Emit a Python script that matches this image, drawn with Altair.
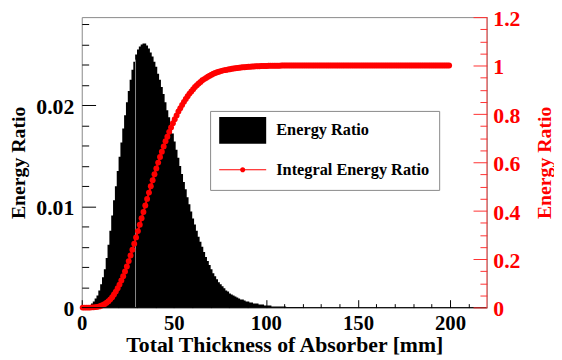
import altair as alt
import pandas as pd

# ---------------- data ----------------
# Energy ratio per 1 mm bin (bins 0-1, 1-2, ... mm)
hist_values = [
    0.0, 0.0, 0.00002, 0.0001, 0.0002, 0.0004, 0.0006, 0.0009, 0.0012, 0.0017,
    0.0023, 0.0030, 0.0038, 0.0049, 0.0062, 0.0076, 0.0091, 0.0106, 0.0120, 0.0135,
    0.0149, 0.0163, 0.0177, 0.0190, 0.0203, 0.0214, 0.0225, 0.0235, 0.0243, 0.0250,
    0.0255, 0.0258, 0.0260, 0.0261, 0.0261, 0.0259, 0.0256, 0.0252, 0.0248, 0.0243,
    0.0238, 0.0231, 0.0225, 0.0218, 0.0211, 0.0203, 0.0195, 0.0188, 0.0180, 0.0172,
    0.0164, 0.0156, 0.0148, 0.0140, 0.0132, 0.0124, 0.0117, 0.0109, 0.0102, 0.0095,
    0.0088, 0.0082, 0.0076, 0.0070, 0.0065, 0.0060, 0.0055, 0.0050, 0.0046, 0.0042,
    0.0038, 0.0034, 0.0031, 0.0028, 0.0025, 0.0023, 0.0021, 0.0019, 0.0017, 0.0016,
    0.0014, 0.0013, 0.0012, 0.0011, 0.0010, 0.0009, 0.0008, 0.0008, 0.0007, 0.0006,
    0.0006, 0.0005, 0.0005, 0.0004, 0.0004, 0.0004, 0.0003, 0.0003, 0.0003, 0.0002,
    0.0002, 0.0002, 0.0002, 0.0001, 0.0001, 0.0001, 0.0001, 0.0001, 0.0001, 0.0001,
    0.0001, 0.00005, 0.00005, 0.00005, 0.00005, 0.00005, 0.00005, 0.00005, 0.00005, 0.00005,
] + [0.0] * 80

# Integral energy ratio at each bin centre
integral_values = [
    0.000, 0.000, 0.000, 0.000, 0.000, 0.001, 0.001, 0.002, 0.003, 0.005,
    0.008, 0.011, 0.015, 0.020, 0.026, 0.034, 0.043, 0.054, 0.066, 0.080,
    0.095, 0.112, 0.130, 0.149, 0.170, 0.192, 0.215, 0.239, 0.264, 0.290,
    0.316, 0.342, 0.369, 0.395, 0.422, 0.449, 0.475, 0.501, 0.526, 0.551,
    0.575, 0.599, 0.622, 0.644, 0.666, 0.687, 0.706, 0.726, 0.744, 0.762,
    0.778, 0.794, 0.810, 0.824, 0.837, 0.850, 0.862, 0.873, 0.884, 0.893,
    0.902, 0.911, 0.919, 0.926, 0.932, 0.939, 0.944, 0.949, 0.954, 0.958,
    0.962, 0.966, 0.969, 0.972, 0.974, 0.977, 0.979, 0.981, 0.982, 0.984,
    0.985, 0.987, 0.988, 0.989, 0.990, 0.991, 0.992, 0.993, 0.993, 0.994,
    0.995, 0.995, 0.996, 0.996, 0.997, 0.997, 0.997, 0.998, 0.998, 0.998,
    0.998, 0.999, 0.999, 0.999, 0.999, 0.999, 0.999, 0.999, 1.000, 1.000,
    1.000, 1.000, 1.000, 1.000, 1.000, 1.000, 1.000, 1.000, 1.000, 1.000,
] + [1.0] * 80

series_names = ["Energy Ratio", "Integral Energy Ratio"]

x_ticks = [0, 10, 20, 30, 40, 50, 60, 70, 80, 90, 100, 110, 120, 130, 140,
           150, 160, 170, 180, 190, 200, 210]
left_ticks = [0, 0.002, 0.004, 0.006, 0.008, 0.01, 0.012, 0.014, 0.016,
              0.018, 0.02, 0.022, 0.024, 0.026, 0.028]
right_ticks = [0, 0.05, 0.1, 0.15, 0.2, 0.25, 0.3, 0.35, 0.4, 0.45, 0.5,
               0.55, 0.6, 0.65, 0.7, 0.75, 0.8, 0.85, 0.9, 0.95, 1.0,
               1.05, 1.1, 1.15, 1.2]

gap_x = [29.2]
gap_top = [0.0245]

X_DOMAIN = [0, 220]
LEFT_DOMAIN = [0, 0.0287]
RIGHT_DOMAIN = [0, 1.2]
FONT = "Liberation Serif"

# ---------------- tables ----------------
n = len(hist_values)
hist_df = pd.DataFrame({"edge": list(range(n + 1)), "value": hist_values + [0.0]})
int_df = pd.DataFrame({"x": [i + 0.5 for i in range(n)], "value": integral_values})
gap_df = pd.DataFrame({"x": gap_x, "y0": [0.0] * len(gap_x), "top": gap_top})
legend_df = pd.DataFrame({"series": series_names})
bottom_df = pd.DataFrame({"v": [LEFT_DOMAIN[0]]})
right_df = pd.DataFrame({"e": [X_DOMAIN[1]]})

xscale = alt.Scale(domain=X_DOMAIN, nice=False, zero=False)
lscale = alt.Scale(domain=LEFT_DOMAIN, nice=False)
rscale = alt.Scale(domain=RIGHT_DOMAIN, nice=False)

common_lbl = dict(labelFont=FONT, labelFontWeight="bold",
                  titleFont=FONT, titleFontWeight="bold",
                  domain=False, grid=False, labelFlush=False, labelOverlap=False,
                  tickWidth=1)

x_major = "abs(datum.value/50 - round(datum.value/50)) < 1e-6"
x_axis = alt.Axis(orient="bottom", offset=-8, values=x_ticks, format="d",
                  labelExpr=f"{x_major} ? datum.label : ''",
                  tickSize=8, tickColor="black",
                  tickDash={"condition": {"test": x_major, "value": [20, 0]},
                            "value": [0, 4, 4, 0]},
                  labelColor="black", labelFontSize=21, labelPadding=5,
                  title="Total Thickness of Absorber [mm]", titleColor="black",
                  titleFontSize=22, titlePadding=1, **common_lbl)

l_major = "abs(datum.value*100 - round(datum.value*100)) < 1e-6"
left_axis = alt.Axis(orient="left", offset=-14, values=left_ticks, format="~g",
                     labelExpr=f"{l_major} ? datum.label : ''",
                     tickSize=14, tickColor="black",
                     tickDash={"condition": {"test": l_major, "value": [30, 0]},
                               "value": [0, 7, 7, 0]},
                     labelColor="black", labelFontSize=22, labelPadding=8,
                     labelOffset=1,
                     title="Energy Ratio", titleColor="black", titleFontSize=20,
                     titlePadding=7, **common_lbl)

r_major = "abs(datum.value*5 - round(datum.value*5)) < 1e-6"
right_axis = alt.Axis(orient="right", offset=-14, values=right_ticks, format="~g",
                      labelExpr=f"{r_major} ? datum.label : ''",
                      tickSize=14, tickColor="#ff3030",
                      tickDash={"condition": {"test": r_major, "value": [30, 0]},
                                "value": [0, 7, 7, 0]},
                      labelColor="red", labelFontSize=22, labelPadding=6,
                      labelOffset=1.5,
                      title="Energy Ratio", titleColor="red", titleFontSize=20,
                      titlePadding=15, titleAngle=270, titleBaseline="top",
                      zindex=2, **common_lbl)

hist = alt.Chart(hist_df).mark_area(interpolate="step-after", color="black").encode(
    x=alt.X("edge:Q", scale=xscale, axis=x_axis),
    y=alt.Y("value:Q", scale=lscale, axis=left_axis),
)

gap = alt.Chart(gap_df).mark_rule(color="#8a8a8a", strokeWidth=1).encode(
    x=alt.X("x:Q", scale=xscale, axis=None),
    y=alt.Y("y0:Q", scale=lscale, axis=None),
    y2="top:Q",
)

integral_line = alt.Chart(int_df).mark_line(color="red", strokeWidth=2).encode(
    x=alt.X("x:Q", scale=xscale, axis=None),
    y=alt.Y("value:Q", scale=rscale, axis=right_axis),
)
integral_pts = alt.Chart(int_df).mark_circle(color="red", size=36, opacity=1).encode(
    x=alt.X("x:Q", scale=xscale, axis=None),
    y=alt.Y("value:Q", scale=rscale, axis=None),
)

bottom_line = alt.Chart(bottom_df).mark_rule(color="black", strokeWidth=1).encode(
    y=alt.Y("v:Q", scale=lscale, axis=None)
)
right_line = alt.Chart(right_df).mark_rule(color="#ff5050", strokeWidth=1).encode(
    x=alt.X("e:Q", scale=xscale, axis=None)
)

rect_path = "M-1,-0.574H1V0.574H-1Z"
line_dot_path = ("M-1,-0.025H1V0.025H-1Z"
                 "M0.11,0A0.11,0.11,0,1,1,-0.11,0A0.11,0.11,0,1,1,0.11,0Z")

# invisible spacer title on the right widens the legend box like the reference
# (zero-width spaces keep the no-break space from being trimmed)
SPACER = "\u200b" + "\u00a0" + "\u200b"
leg = alt.Legend(title=SPACER, titleOrient="right", titleFont=FONT,
                 titleFontSize=16, titleFontWeight="normal",
                 titlePadding=0, titleLimit=400,
                 orient="none", legendX=130, legendY=95,
                 direction="vertical", symbolSize=2266, symbolStrokeWidth=0,
                 labelFont=FONT, labelFontSize=16.5, labelFontWeight="bold",
                 labelColor="black", labelOffset=10, labelLimit=500,
                 padding=6, rowPadding=11.9, clipHeight=27.4,
                 strokeColor="#888888", fillColor="white", cornerRadius=0,
                 symbolOffset=3)

legend_layer = alt.Chart(legend_df).transform_filter("false").mark_point(
    filled=True, opacity=1
).encode(
    color=alt.Color("series:N", scale=alt.Scale(domain=series_names, range=["black", "red"]), legend=leg),
    shape=alt.Shape("series:N", scale=alt.Scale(domain=series_names, range=[rect_path, line_dot_path]), legend=leg),
)

chart = alt.layer(
    hist, gap, integral_line, integral_pts, bottom_line, right_line, legend_layer
).resolve_scale(
    y="independent"
).resolve_axis(
    x="independent"
).properties(
    width=410.3, height=294.2,
    autosize=alt.AutoSizeParams(type="none"),
    padding={"left": 74.7, "top": 7, "right": 68, "bottom": 49},
    background="white",
).configure_view(stroke="#888888", strokeWidth=1)

chart.save("out.html", embed_options={"renderer": "svg", "actions": False})
